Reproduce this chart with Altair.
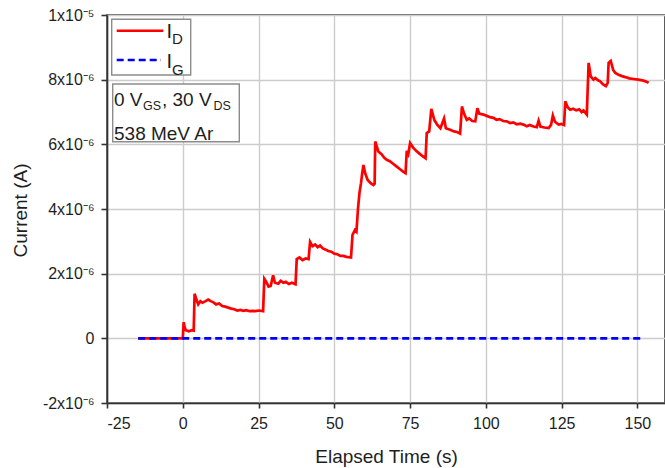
import altair as alt
import pandas as pd

# Drain current I_D (in units of 1e-6 A) versus elapsed time (s)
t_drain = [-14.7, 0.0, 0.3, 0.6, 1.0, 2.0, 3.0, 3.6, 3.9, 4.5, 5.1, 5.8, 6.5, 7.5, 8.4, 9.2,
           10.0, 11.0, 12.0, 13.0, 14.0, 15.0, 16.0, 17.0, 18.0, 19.0, 20.0, 21.0, 22.0,
           23.0, 24.0, 25.0, 26.5, 26.9, 27.5, 28.3, 29.0, 29.8, 30.4, 31.5, 32.3, 33.2,
           34.0, 35.0, 36.0, 37.2, 37.6, 38.5, 39.5, 40.5, 41.5, 42.0, 42.8, 43.7, 44.5,
           45.3, 46.2, 47.0, 48.0, 49.0, 50.0, 51.0, 52.0, 53.0, 54.0, 55.5, 56.0, 56.8,
           57.3, 57.8, 58.3, 58.8, 59.2, 59.6, 60.2, 61.0, 62.0, 62.9, 63.3, 63.5, 64.5,
           65.5, 66.5, 67.3, 68.3, 69.4, 70.6, 71.8, 72.8, 73.5, 73.9, 74.4, 75.0, 76.0,
           77.0, 78.0, 79.0, 80.1, 80.5, 81.3, 82.0, 83.0, 84.0, 85.0, 86.2, 86.8, 88.2,
           89.5, 90.5, 91.5, 92.1, 92.8, 93.7, 94.5, 95.5, 96.5, 97.2, 97.8, 99.2, 100.3,
           101.4, 102.5, 103.5, 104.5, 105.7, 106.9, 108.0, 109.0, 110.2, 111.3, 112.4,
           113.5, 114.5, 115.7, 116.8, 117.4, 118.0, 119.3, 120.7, 121.5, 122.1, 122.8,
           124.0, 125.0, 125.8, 126.2, 127.0, 127.8, 128.8, 129.8, 130.8, 131.6, 132.2,
           133.3, 133.9, 134.6, 135.5, 136.1, 137.0, 137.7, 138.7, 139.6, 140.2, 140.5,
           141.2, 142.0, 142.7, 143.8, 144.9, 146.0, 147.3, 148.7, 150.3, 152.0, 153.2,
           153.7]
i_drain = [0.0, 0.0, 0.5, 0.35, 0.25, 0.22, 0.25, 0.24, 1.38, 1.2, 1.05, 1.15, 1.1, 1.15, 1.2, 1.15,
           1.12, 1.05, 1.08, 1.0, 0.98, 0.95, 0.92, 0.9, 0.86, 0.88, 0.85, 0.87, 0.84,
           0.85, 0.84, 0.86, 0.84, 1.84, 1.75, 1.6, 1.62, 1.95, 1.72, 1.69, 1.78, 1.72,
           1.75, 1.68, 1.72, 1.67, 2.45, 2.5, 2.42, 2.47, 2.45, 2.98, 2.85, 2.9, 2.82,
           2.87, 2.78, 2.75, 2.7, 2.68, 2.62, 2.6, 2.55, 2.55, 2.52, 2.5, 3.2, 3.35,
           3.3, 4.0, 4.5, 4.8, 5.1, 5.36, 5.1, 4.9, 4.8, 4.74, 4.78, 6.09, 5.78,
           5.7, 5.58, 5.52, 5.48, 5.4, 5.31, 5.22, 5.15, 5.11, 5.8, 5.7, 6.04, 5.9,
           5.8, 5.72, 5.64, 5.57, 6.35, 6.4, 7.1, 6.75, 6.6, 6.5, 6.8, 6.5, 6.45,
           6.4, 6.38, 6.33, 7.17, 6.95, 6.76, 6.8, 6.72, 6.71, 7.12, 6.95, 6.92, 6.88,
           6.84, 6.82, 6.76, 6.78, 6.72, 6.71, 6.66, 6.68, 6.62, 6.64, 6.61,
           6.56, 6.6, 6.55, 6.53, 6.73, 6.55, 6.52, 6.5, 6.6, 6.89, 6.7,
           6.61, 6.63, 6.6, 7.33, 7.15, 7.07, 7.1, 7.05, 7.08, 7.0, 7.05,
           6.92, 8.52, 8.1, 8.0, 8.05, 7.98, 7.95, 7.85, 7.8, 7.9, 8.52,
           8.58, 8.3, 8.21, 8.15, 8.11, 8.08, 8.04, 8.02, 8.0, 7.97, 7.93,
           7.9]

# Gate current I_G (in units of 1e-6 A)
t_gate = [-14.7, 0.0, 50.0, 100.0, 152.0]
i_gate = [0.0, 0.0, 0.0, 0.0, 0.0]

x_ticks = [-25, 0, 25, 50, 75, 100, 125, 150]
y_ticks = [-2e-6, 0.0, 2e-6, 4e-6, 6e-6, 8e-6, 1e-5]
y_tick_text = ["-2x10\u207b\u2076", "0", "2x10\u207b\u2076", "4x10\u207b\u2076",
               "6x10\u207b\u2076", "8x10\u207b\u2076", "1x10\u207b\u2075"]

FONT = "Liberation Sans"
INK = "#1e1e1e"
FRAME = "#333333"

df = pd.concat([
    pd.DataFrame({"t": t_drain, "i": [v * 1e-6 for v in i_drain], "s": "I_D"}),
    pd.DataFrame({"t": t_gate, "i": [v * 1e-6 for v in i_gate], "s": "I_G"}),
])

# y labels in power-of-ten form, looked up by tick value
label_expr = "''"
for v, txt in reversed(list(zip(y_ticks, y_tick_text))):
    shown = txt if txt == "0" else txt + "\u00a0\u00a0"
    label_expr = f"abs(datum.value - ({v!r})) < 1e-12 ? '{shown}' : {label_expr}"

x_enc = alt.X("t:Q", scale=alt.Scale(domain=[-25, 159.1], nice=False, zero=False),
              axis=alt.Axis(values=x_ticks, title="Elapsed Time (s)",
                            labelExpr="'' + datum.value",
                            titleY=53, titleBaseline="middle", labelPadding=7,
                            tickSize=5))
y_enc = alt.Y("i:Q", scale=alt.Scale(domain=[-2e-6, 1e-5], nice=False),
              axis=alt.Axis(values=y_ticks, title="Current (A)", labelExpr=label_expr,
                            titleX=-87, titleY=195, titleBaseline="middle",
                            titleAlign="center", labelPadding=7, tickSize=6))

drain = alt.Chart(df).transform_filter("datum.s == 'I_D'").mark_line(
    color="#ff0000", strokeWidth=2.7, clip=True).encode(x=x_enc, y=y_enc)
gate = alt.Chart(df).transform_filter("datum.s == 'I_G'").mark_line(
    color="#0000ff", strokeWidth=2.6, strokeDash=[7, 4], clip=True).encode(x="t:Q", y="i:Q")

one = alt.Data(values=[{}])

# Legend box and its entries
legend_box = alt.Chart(one).mark_rect(fill="white", stroke="#8c8c8c", strokeWidth=1.4).encode(
    x=alt.value(4.7), x2=alt.value(83.7), y=alt.value(4.3), y2=alt.value(60))
leg_red = alt.Chart(one).mark_rule(color="#ff0000", strokeWidth=2.6).encode(
    x=alt.value(9.7), x2=alt.value(56.3), y=alt.value(15.7))
leg_blue = alt.Chart(one).mark_rule(color="#0000ff", strokeWidth=2.6, strokeDash=[7, 4]).encode(
    x=alt.value(9.7), x2=alt.value(54), y=alt.value(45))

# Annotation box
note_box = alt.Chart(one).mark_rect(fill="white", stroke="#8c8c8c", strokeWidth=1.4).encode(
    x=alt.value(5.7), x2=alt.value(132.3), y=alt.value(69), y2=alt.value(126.7))

texts = [
    ("I", 59.5, 23, 20), ("D", 65, 28.5, 15),
    ("I", 59.5, 53.3, 20), ("G", 65, 60, 15),
    ("0 V", 7, 91, 19), ("GS", 36, 95, 12.5), (", 30 V", 55, 91, 19), ("DS", 106.5, 95, 12.5),
    ("538 MeV Ar", 7, 124.7, 19),
]
text_layers = [
    alt.Chart(one).mark_text(text=s, font=FONT, fontSize=fs, color=INK, align="left",
                             baseline="alphabetic").encode(x=alt.value(x), y=alt.value(y))
    for s, x, y, fs in texts
]

chart = alt.layer(drain, gate, legend_box, leg_red, leg_blue, note_box, *text_layers).properties(
    width=558, height=388,
    padding={"left": 107, "top": 15, "right": 0, "bottom": 65},
    autosize="none",
    background="white",
).configure_view(
    stroke=FRAME, strokeWidth=1.6
).configure_axis(
    labelFont=FONT, titleFont=FONT, labelFontSize=16, titleFontSize=19,
    labelColor=INK, titleColor=INK, titleFontWeight="normal",
    domainColor=FRAME, domainWidth=1.6, tickColor=FRAME, tickWidth=1.6,
    gridColor="#cccccc", gridWidth=1.4, gridOpacity=1,
)

chart.save("out.html", embed_options={"renderer": "svg", "actions": False})
